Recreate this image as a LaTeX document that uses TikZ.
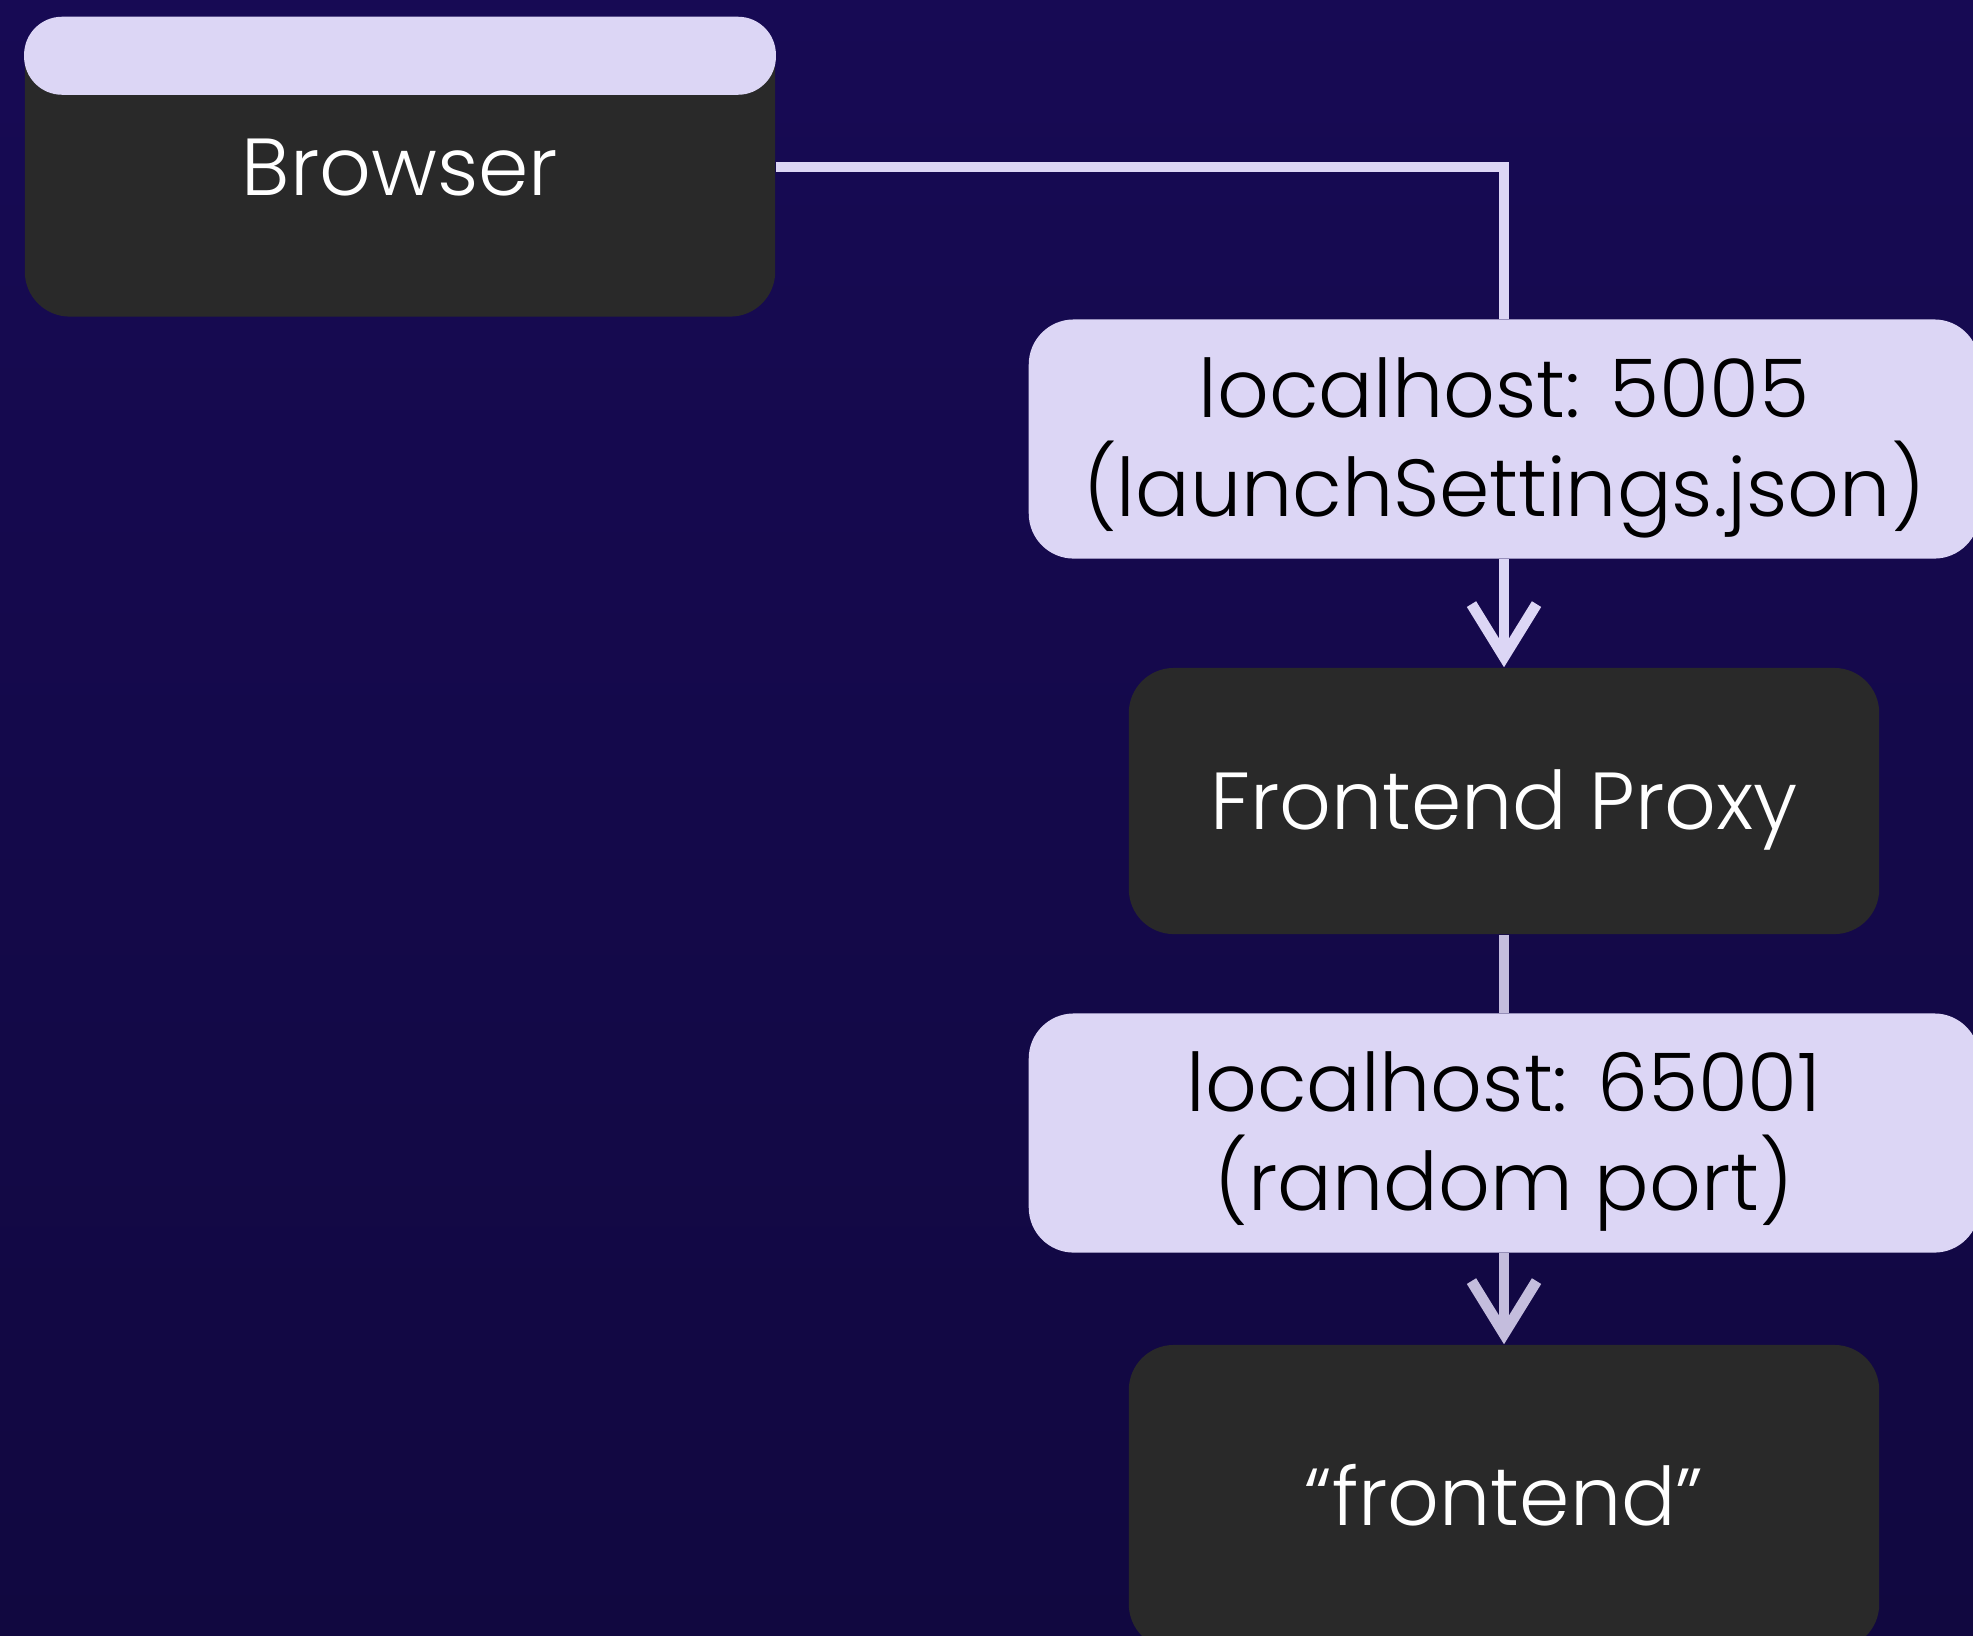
\documentclass[tikz,border=0pt]{standalone}
\usepackage{fontspec}
\setmainfont{Poppins}[UprightFont=* Light]
\usetikzlibrary{arrows.meta}
\definecolor{bgtop}{RGB}{23,10,84}
\definecolor{bgbot}{RGB}{17,8,64}
\definecolor{lav}{RGB}{220,214,245}
\definecolor{lavgray}{RGB}{196,189,221}
\definecolor{boxgray}{RGB}{41,41,41}
\begin{document}
\begin{tikzpicture}[x=0.01cm,y=-0.01cm,>={Straight Barb[length=15pt,width=18.5pt]},
	font=\fontsize{23}{28}\selectfont,
	darkbox/.style={fill=boxgray,text=white,rounded corners=0.45cm,minimum width=7.5cm,inner sep=0pt,text height=16pt,text depth=0pt},
	portbox/.style={fill=lav,text=black,rounded corners=0.45cm,minimum width=9.5cm,minimum height=2.39cm,align=center,inner sep=0pt,text height=44pt,text depth=0pt},
	link/.style={draw=lav,line width=3.1pt}]
	\useasboundingbox (0,0) rectangle (1973,1635);
	\clip (0,0) rectangle (1973,1635);
	\shade[top color=bgtop,bottom color=bgbot] (0,0) rectangle (1973,1635);
	% boxes
	\node[darkbox,minimum height=2.99cm] (browser) at (400,167) {Browser};
	\fill[lav,rounded corners=0.38cm] (browser.north west) rectangle ([yshift=-0.78cm]browser.north east);
	\node[portbox] (port1) at (1504,439) {localhost: 5005\\(launchSettings.json)};
	\node[darkbox,minimum height=2.66cm] (proxy) at (1504,801) {Frontend Proxy};
	\node[portbox] (port2) at (1504,1133) {localhost: 65001\\(random port)};
	\node[darkbox,minimum height=3.04cm] (front) at (1504,1497) {“frontend”};
	% connectors
	\draw[link] (browser.east) -| (port1.north);
	\draw[link,->] (port1.south) -- (proxy.north);
	\draw[link,draw=lavgray] (proxy.south) -- (port2.north);
	\draw[link,draw=lavgray,->] (port2.south) -- (front.north);
\end{tikzpicture}
\end{document}
